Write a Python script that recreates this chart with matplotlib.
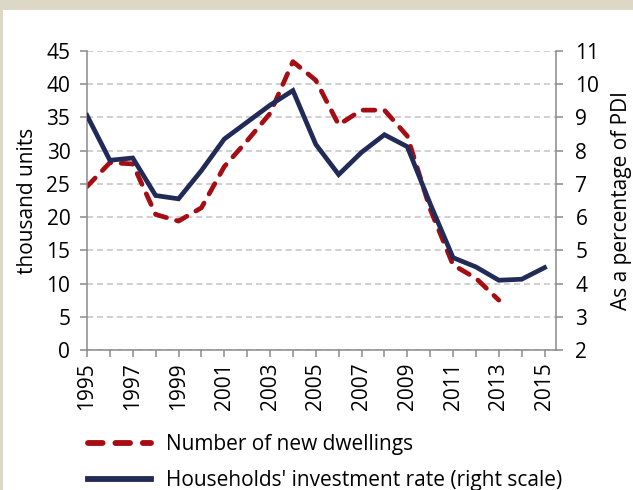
import matplotlib
matplotlib.use("Agg")
import matplotlib.pyplot as plt
from matplotlib.patches import Rectangle

years = list(range(1995, 2016))
dwell_years = list(range(1995, 2014))
new_dwellings = [24.6, 28.2, 28.0, 20.4, 19.4, 21.4, 27.6, 31.5, 35.6, 43.4,
                 40.6, 33.9, 36.1, 36.1, 32.2, 21.2, 12.8, 10.8, 7.5]
invest_rate = [9.06, 7.71, 7.78, 6.65, 6.55, 7.40, 8.35, 8.86, 9.37, 9.81,
               8.19, 7.28, 7.95, 8.48, 8.12, 6.40, 4.78, 4.50, 4.10, 4.13, 4.48]
x_labels = [str(y) if y % 2 == 1 else "" for y in years]
left_ticks = list(range(0, 50, 5))
right_ticks = list(range(2, 12))

FONT = "Open Sans"
plt.rcParams['font.family'] = [FONT, 'DejaVu Sans']

red = "#a50d12"
navy = "#222a57"
spine_col = "#8a8a8a"
grid_col = "#c3c3c3"

fig = plt.figure(figsize=(6.33, 4.90), dpi=100)
fig.patch.set_facecolor("white")
# beige frame strips
fig.patches.append(Rectangle((0, 1 - 10/490), 1, 10/490, transform=fig.transFigure,
                             facecolor="#ddd8c6", edgecolor="none", zorder=0))
fig.patches.append(Rectangle((0, 0), 3/633, 1, transform=fig.transFigure,
                             facecolor="#ddd8c6", edgecolor="none", zorder=0))

ax = fig.add_axes([87/633, 1 - 350/490, (556 - 87)/633, (350 - 51)/490])
ax2 = ax.twinx()

ax.plot(dwell_years, new_dwellings, color=red, lw=3.4, linestyle=(0, (2.5, 2.2)),
        dash_capstyle='round', solid_capstyle='round', label="Number of new dwellings")
ax2.plot(years, invest_rate, color=navy, lw=3.4, solid_joinstyle='miter',
         label="Households' investment rate (right scale)")

ax.set_xlim(1995, 2015.5)
ax.set_ylim(0, 45)
ax2.set_ylim(2, 11)
ax.set_yticks(left_ticks)
ax2.set_yticks(right_ticks)
ax.set_xticks(years)
ax.set_xticklabels(x_labels, rotation=90)

ax.grid(axis='y', color=grid_col, linestyle=(0, (4, 2.5)), lw=1.1)
ax.set_axisbelow(True)

for a in (ax, ax2):
    a.spines['top'].set_visible(False)
    for s in ('left', 'right', 'bottom'):
        a.spines[s].set_color(spine_col)
        a.spines[s].set_linewidth(1.1)
    a.tick_params(colors=spine_col, labelcolor="black", labelsize=15, width=1.1, length=5)
ax.spines['right'].set_visible(False)
ax2.spines['left'].set_visible(False)
ax2.spines['bottom'].set_visible(False)
ax.tick_params(axis='y', pad=7)
ax.tick_params(axis='x', pad=4)
ax2.tick_params(axis='y', pad=9)

ax.set_ylabel("thousand units", fontsize=15, labelpad=6)
ax2.set_ylabel("As a percentage of PDI", fontsize=15, labelpad=8)

h1, l1 = ax.get_legend_handles_labels()
h2, l2 = ax2.get_legend_handles_labels()
leg = fig.legend(h1 + h2, l1 + l2, loc="upper left", bbox_to_anchor=(88/633, 1 - 434/490),
                 frameon=False, fontsize=15, handlelength=3.0, handletextpad=0.75,
                 labelspacing=0.72, borderpad=0, borderaxespad=0)
for ln in leg.get_lines():
    ln.set_linewidth(4.2)

fig.savefig("out.png", dpi=100, facecolor=fig.get_facecolor())
